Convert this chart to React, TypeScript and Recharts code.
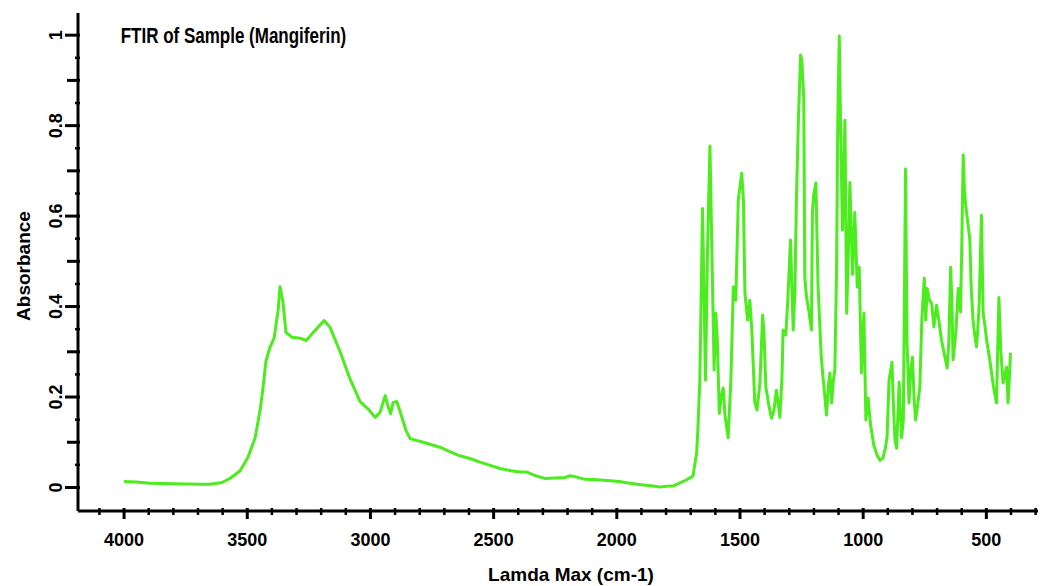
import React from 'react';
import { LineChart, Line, XAxis, YAxis } from 'recharts';

// wavenumber (cm-1) from left to right
const wavenumbers = [
  4000, 3951, 3894, 3800, 3692, 3651, 3602, 3570, 3529, 3497, 3468, 3448, 3436, 3424, 3408, 3391,
  3375, 3367, 3355, 3343, 3318, 3286, 3261, 3225, 3188, 3164, 3123, 3083, 3042, 3010, 2981, 2961,
  2940, 2930, 2918, 2908, 2893, 2868, 2855, 2839, 2779, 2718, 2680, 2637, 2596, 2555, 2520, 2474,
  2430, 2393, 2365, 2330, 2292, 2250, 2210, 2190, 2170, 2129, 2080, 2028, 1990, 1947, 1900, 1860,
  1825, 1790, 1767, 1744, 1720, 1691, 1676, 1671, 1663, 1652, 1640, 1632, 1622, 1614, 1605, 1598,
  1592, 1584, 1575, 1568, 1561, 1548, 1537, 1527, 1517, 1507, 1493, 1486, 1480, 1469, 1460, 1452,
  1440, 1431, 1419, 1408, 1403, 1395, 1383, 1372, 1362, 1352, 1344, 1338, 1330, 1325, 1314, 1306,
  1295, 1284, 1277, 1271, 1263, 1254, 1249, 1241, 1237, 1230, 1221, 1210, 1206, 1201, 1192, 1183,
  1170, 1163, 1156, 1149, 1141, 1135, 1128, 1121, 1115, 1108, 1103, 1097, 1092, 1084, 1074, 1067,
  1060, 1054, 1043, 1034, 1024, 1016, 1007, 997, 989, 980, 970, 957, 944, 932, 920, 910,
  903, 895, 883, 878, 871, 864, 854, 844, 837, 828, 822, 818, 814, 807, 800, 793,
  787, 779, 770, 762, 752, 746, 740, 731, 722, 713, 702, 693, 682, 670, 659, 652,
  645, 640, 635, 624, 614, 605, 600, 594, 589, 583, 574, 567, 561, 554, 547, 540,
  535, 529, 520, 513, 506, 499, 486, 472, 459, 449, 441, 432, 425, 418, 412, 407,
  402,
];

const absorbance = [
  0.013, 0.012, 0.0095, 0.008, 0.007, 0.007, 0.011, 0.02, 0.037, 0.067, 0.11, 0.17, 0.22, 0.28, 0.31, 0.33,
  0.39, 0.444, 0.41, 0.343, 0.332, 0.33, 0.325, 0.347, 0.369, 0.354, 0.3, 0.24, 0.19, 0.174, 0.155, 0.166,
  0.203, 0.182, 0.163, 0.188, 0.19, 0.148, 0.125, 0.108, 0.099, 0.089, 0.08, 0.07, 0.064, 0.056, 0.05, 0.042,
  0.037, 0.034, 0.034, 0.026, 0.02, 0.021, 0.022, 0.026, 0.024, 0.018, 0.017, 0.015, 0.013, 0.0095, 0.006, 0.004,
  0.001, 0.003, 0.004, 0.01, 0.016, 0.025, 0.076, 0.127, 0.237, 0.617, 0.237, 0.52, 0.755, 0.52, 0.26, 0.385,
  0.326, 0.164, 0.204, 0.22, 0.16, 0.11, 0.237, 0.443, 0.414, 0.635, 0.695, 0.635, 0.43, 0.37, 0.414, 0.348,
  0.189, 0.171, 0.231, 0.381, 0.348, 0.222, 0.182, 0.153, 0.171, 0.215, 0.182, 0.155, 0.237, 0.348, 0.337, 0.414,
  0.547, 0.348, 0.436, 0.635, 0.812, 0.956, 0.945, 0.861, 0.465, 0.421, 0.392, 0.348, 0.606, 0.646, 0.673, 0.443,
  0.288, 0.244, 0.204, 0.16, 0.226, 0.253, 0.187, 0.237, 0.259, 0.48, 0.812, 0.998, 0.812, 0.569, 0.812, 0.385,
  0.52, 0.674, 0.471, 0.608, 0.443, 0.487, 0.253, 0.385, 0.149, 0.198, 0.138, 0.094, 0.072, 0.06, 0.065, 0.087,
  0.111, 0.237, 0.277, 0.193, 0.105, 0.087, 0.233, 0.11, 0.149, 0.704, 0.319, 0.259, 0.187, 0.259, 0.288, 0.193,
  0.149, 0.182, 0.222, 0.37, 0.463, 0.37, 0.44, 0.414, 0.407, 0.355, 0.403, 0.37, 0.326, 0.293, 0.264, 0.326,
  0.487, 0.414, 0.282, 0.341, 0.44, 0.388, 0.525, 0.735, 0.657, 0.62, 0.58, 0.547, 0.436, 0.37, 0.337, 0.311,
  0.348, 0.407, 0.602, 0.385, 0.359, 0.326, 0.282, 0.226, 0.187, 0.42, 0.298, 0.231, 0.248, 0.266, 0.187, 0.237,
  0.298,
];

const xTicks = [
  4100, 4000, 3900, 3800, 3700, 3600, 3500, 3400, 3300, 3200, 3100, 3000, 2900, 2800, 2700, 2600,
  2500, 2400, 2300, 2200, 2100, 2000, 1900, 1800, 1700, 1600, 1500, 1400, 1300, 1200, 1100, 1000,
  900, 800, 700, 600, 500, 400, 300,
];
const yTicks = [
  0, 0.05, 0.1, 0.15, 0.2, 0.25, 0.3, 0.35, 0.4, 0.45, 0.5, 0.55, 0.6, 0.65, 0.7, 0.75, 0.8, 0.85,
  0.9, 0.95, 1,
];

const data = wavenumbers.map((wn, i) => ({ wn, abs: absorbance[i] }));

const FONT = '"Liberation Sans", Arial, Helvetica, sans-serif';

const XTick = (props: any) => {
  const { x, y, payload } = props;
  const v = payload.value;
  const major = v % 500 === 0;
  return (
    <g>
      <line x1={x} x2={x} y1={y - 3} y2={y + (major ? 8 : 4)} stroke="#000" strokeWidth={major ? 3 : 2.5} />
      {major && (
        <text x={x} y={y + 35} textAnchor="middle" fontSize={18} fontWeight="bold" fontFamily={FONT} fill="#000">
          {v}
        </text>
      )}
    </g>
  );
};

const YTick = (props: any) => {
  const { x, y, payload } = props;
  const v = payload.value;
  const hundredths = Math.round(v * 100);
  const major = hundredths % 20 === 0;
  const medium = hundredths % 10 === 0;
  const len = major ? 13 : medium ? 11 : 3;
  return (
    <g>
      <line x1={x + 2} x2={x - len} y1={y} y2={y} stroke="#000" strokeWidth={major || medium ? 3 : 2.5} />
      {major && (
        <text
          x={x - 16}
          y={y}
          transform={`rotate(-90, ${x - 16}, ${y})`}
          textAnchor="middle"
          fontSize={18}
          fontWeight="bold"
          fontFamily={FONT}
          fill="#000"
        >
          {v}
        </text>
      )}
    </g>
  );
};

const App: React.FC = () => {
  return (
    <div style={{ position: 'relative', width: 1036, height: 578 }}>
      <LineChart width={1036} height={578} data={data} margin={{ top: 5, right: 0, left: 0, bottom: 0 }}>
        <XAxis
          dataKey="wn"
          type="number"
          domain={[266, 4187]}
          reversed
          allowDataOverflow
          ticks={xTicks}
          interval={0}
          tick={<XTick />}
          tickLine={false}
          tickSize={0}
          tickMargin={0}
          height={75}
          axisLine={{ stroke: '#000', strokeWidth: 3 }}
        />
        <YAxis
          type="number"
          domain={[-0.052, 1.049]}
          allowDataOverflow
          ticks={yTicks}
          interval={0}
          tick={<YTick />}
          tickLine={false}
          tickSize={0}
          tickMargin={0}
          width={70}
          axisLine={{ stroke: '#000', strokeWidth: 3 }}
        />
        <Line
          type="linear"
          dataKey="abs"
          stroke="#4cec1e"
          strokeWidth={3}
          strokeLinejoin="round"
          dot={false}
          isAnimationActive={false}
        />
      </LineChart>
      <svg
        width={1036}
        height={578}
        style={{ position: 'absolute', left: 0, top: 0, pointerEvents: 'none' }}
      >
        <text
          transform="translate(112.7, 35.3) scale(1, 1.3)"
          fontSize={17}
          fontWeight="bold"
          fontFamily={FONT}
          fill="#000"
        >
          FTIR of Sample (Mangiferin)
        </text>
        <text
          transform="translate(22, 258) rotate(-90)"
          textAnchor="middle"
          fontSize={19}
          fontWeight="bold"
          fontFamily={FONT}
          fill="#000"
        >
          Absorbance
        </text>
        <text x={563} y={573} textAnchor="middle" fontSize={19} fontWeight="bold" fontFamily={FONT} fill="#000">
          Lamda Max (cm-1)
        </text>
      </svg>
    </div>
  );
};

export default App;
